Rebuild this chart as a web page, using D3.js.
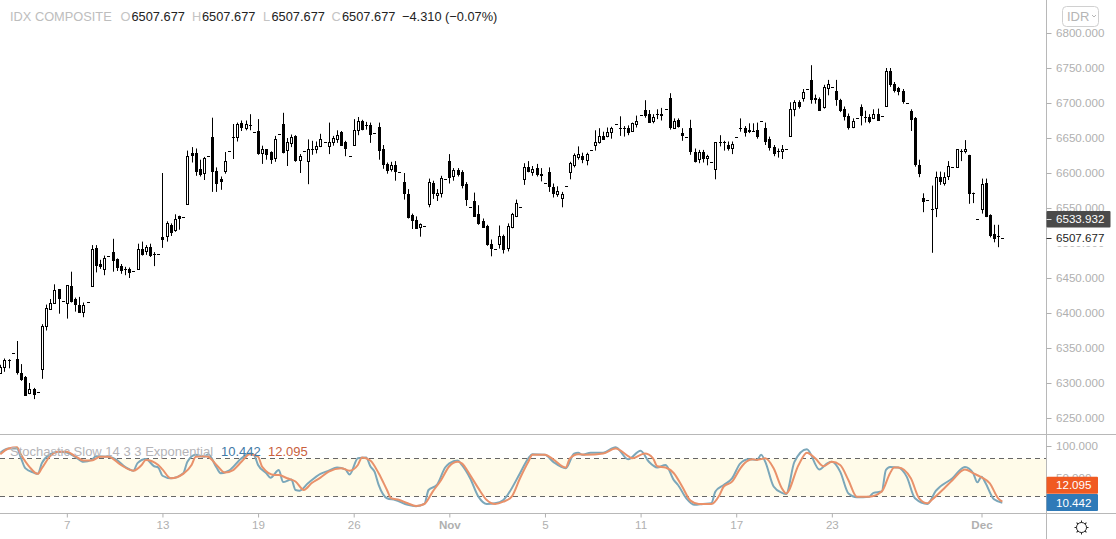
<!DOCTYPE html>
<html>
<head>
<meta charset="utf-8">
<script src="https://cdn.jsdelivr.net/npm/d3@7"></script>
<style>
html, body { margin: 0; padding: 0; background: #fff; overflow: hidden; }
svg { display: block; font-family: "Liberation Sans", Arial, sans-serif; }
.axis text { fill: #b0b0b0; font-size: 11.6px; }
.axis line { stroke: #b0b0b0; }
.axis path { display: none; }
.head { font-size: 12.8px; }
</style>
</head>
<body>
<script>
var width = 1116, height = 539;

// bars, a bar with high == low is the closing dash of a session
var opens = [
    6315,6323,6333,6343,6334,6315,6309,6286,6291,6287,
    6320,6382,6406,6414,6434,6417,6414,6439,6420,6412,
    6402,6415,6438,6493,6470,6462,6481,6487,6477,6467,
    6463,6463,6460,6462,6492,6488,6494,6485,6485,6509,
    6509,6526,6518,6538,6537,6556,6629,6628,6606,6599,
    6625,6651,6603,6591,6602,6632,6652,6652,6671,6664,
    6668,6658,6660,6628,6634,6630,6621,6656,6670,6632,
    6643,6653,6618,6632,6618,6635,6633,6638,6644,6638,
    6644,6649,6659,6644,6625,6640,6661,6674,6669,6668,
    6657,6666,6634,6613,6606,6611,6602,6587,6570,6540,
    6533,6522,6524,6555,6586,6569,6572,6591,6617,6595,
    6604,6602,6584,6552,6560,6541,6532,6525,6498,6492,
    6498,6510,6492,6522,6538,6552,6591,6608,6602,6607,
    6598,6585,6601,6580,6571,6564,6581,6601,6612,6623,
    6625,6618,6633,6641,6645,6653,6654,6658,6670,6665,
    6665,6664,6660,6670,6683,6690,6684,6675,6684,6684,
    6691,6707,6665,6676,6657,6651,6664,6630,6620,6630,
    6621,6616,6605,6644,6644,6640,6636,6651,6665,6665,
    6661,6660,6661,6675,6665,6648,6637,6632,6631,6635,
    6652,6691,6702,6708,6720,6733,6707,6706,6695,6721,
    6723,6717,6705,6691,6682,6666,6678,6694,6680,6680,
    6679,6685,6682,6695,6745,6727,6721,6717,6700,6689,
    6679,6611,6565,6562,6549,6550,6594,6586,6596,6608,
    6608,6632,6632,6626,6571,6534,6548,6586,6540,6513,6510,6507.677];
var highs = [
    6326,6335,6334,6343,6360,6327,6310,6300,6293,6287,
    6384,6412,6420,6441,6434,6417,6440,6459,6422,6423,
    6415,6415,6497,6497,6476,6482,6481,6506,6478,6470,
    6466,6465,6460,6499,6502,6497,6499,6487,6485,6600,
    6531,6528,6541,6539,6537,6632,6637,6635,6619,6623,
    6625,6679,6608,6595,6630,6632,6670,6672,6675,6675,
    6684,6658,6677,6639,6634,6631,6653,6656,6686,6650,
    6655,6654,6627,6632,6648,6646,6645,6656,6644,6672,
    6653,6661,6660,6646,6625,6677,6680,6676,6673,6672,
    6657,6672,6640,6615,6616,6617,6602,6600,6577,6542,
    6538,6528,6524,6592,6589,6577,6596,6591,6627,6607,
    6607,6604,6587,6552,6572,6554,6535,6526,6505,6492,
    6525,6512,6528,6543,6562,6552,6614,6617,6610,6613,
    6607,6585,6608,6585,6581,6573,6581,6616,6628,6638,
    6629,6629,6633,6661,6664,6659,6665,6666,6670,6681,
    6667,6668,6672,6682,6683,6704,6690,6684,6691,6693,
    6691,6714,6678,6678,6664,6651,6676,6635,6633,6633,
    6626,6616,6644,6654,6646,6645,6645,6651,6678,6667,
    6671,6671,6672,6675,6672,6652,6640,6635,6640,6635,
    6701,6704,6704,6720,6720,6754,6712,6708,6726,6733,
    6723,6733,6706,6695,6685,6678,6678,6698,6689,6684,
    6691,6692,6682,6750,6750,6730,6723,6720,6700,6691,
    6680,6619,6571,6562,6582,6602,6602,6601,6617,6608,
    6634,6634,6647,6626,6572,6534,6592,6592,6541,6526,6526,6507.677];
var lows = [
    6313,6316,6321,6343,6312,6303,6283,6284,6277,6287,
    6306,6375,6405,6413,6399,6417,6392,6415,6402,6402,
    6394,6415,6438,6458,6463,6454,6481,6459,6460,6456,
    6454,6450,6460,6462,6482,6483,6480,6467,6485,6493,
    6502,6510,6516,6519,6537,6556,6615,6596,6595,6590,
    6625,6573,6573,6576,6599,6632,6620,6645,6660,6661,
    6661,6658,6626,6613,6619,6613,6616,6656,6628,6610,
    6637,6616,6600,6632,6584,6626,6628,6637,6644,6627,
    6639,6643,6639,6624,6625,6639,6654,6661,6662,6643,
    6657,6619,6606,6599,6602,6589,6602,6562,6535,6520,
    6521,6509,6524,6551,6563,6560,6565,6591,6585,6589,
    6595,6578,6553,6552,6539,6526,6522,6496,6481,6492,
    6492,6485,6488,6521,6537,6552,6583,6601,6596,6595,
    6588,6585,6573,6565,6566,6551,6581,6591,6608,6619,
    6614,6611,6633,6632,6642,6648,6651,6649,6670,6653,
    6652,6654,6659,6665,6683,6679,6672,6671,6677,6675,
    6691,6662,6663,6665,6646,6651,6626,6615,6614,6615,
    6611,6616,6591,6638,6632,6632,6627,6651,6659,6652,
    6657,6659,6649,6675,6640,6632,6624,6622,6620,6635,
    6652,6681,6692,6702,6720,6699,6699,6690,6692,6711,
    6723,6696,6687,6675,6662,6664,6678,6668,6672,6671,
    6677,6676,6682,6695,6723,6715,6711,6699,6700,6660,
    6609,6594,6544,6562,6486,6537,6583,6582,6590,6608,
    6608,6617,6628,6556,6557,6534,6542,6537,6508,6501,6494,6507.677];
var closes = [
    6323,6333,6333,6343,6315,6306,6284,6291,6284,6287,
    6381,6407,6414,6433,6421,6417,6440,6418,6413,6402,
    6412,6415,6491,6469,6467,6478,6481,6476,6466,6462,
    6463,6459,6460,6491,6485,6494,6482,6485,6485,6506,
    6528,6516,6534,6535,6537,6625,6626,6603,6599,6621,
    6625,6602,6586,6588,6617,6632,6652,6670,6666,6670,
    6668,6658,6629,6634,6627,6620,6648,6656,6630,6644,
    6651,6619,6624,6632,6635,6635,6638,6648,6644,6644,
    6650,6655,6640,6635,6625,6661,6674,6663,6669,6655,
    6657,6633,6612,6605,6612,6603,6602,6571,6537,6533,
    6522,6527,6524,6587,6572,6572,6593,6591,6594,6604,
    6599,6584,6563,6552,6539,6528,6524,6499,6493,6492,
    6510,6491,6524,6541,6557,6552,6608,6602,6606,6598,
    6596,6585,6581,6571,6575,6570,6581,6614,6626,6627,
    6620,6627,6633,6645,6653,6649,6659,6664,6670,6665,
    6665,6658,6671,6674,6683,6683,6673,6680,6684,6682,
    6691,6665,6675,6668,6654,6651,6631,6617,6630,6621,
    6624,6616,6644,6644,6644,6636,6641,6651,6665,6660,
    6659,6660,6653,6675,6646,6636,6629,6632,6634,6635,
    6691,6701,6696,6716,6720,6706,6705,6691,6723,6727,
    6723,6705,6691,6681,6666,6674,6678,6682,6680,6674,
    6685,6677,6682,6745,6727,6719,6717,6703,6700,6677,
    6613,6599,6561,6562,6549,6594,6589,6595,6610,6608,
    6634,6632,6635,6572,6571,6534,6584,6539,6512,6508,6510,6507.677];

// stochastic, only the bars where the line visibly turns
var kBars = [0,2,4,5,6,8,9,10,12,14,16,18,20,22,23,26,28,30,32,33,35,37,38,39,41,44,45,47,49,50,52,53,55,58,60,61,62,64,65,67,68,70,71,72,74,77,79,81,83,84,86,88,
    89,90,91,93,95,98,100,102,103,105,107,108,110,111,113,115,117,119,121,122,125,127,128,131,133,136,138,139,140,142,145,148,151,154,156,158,160,162,163,165,167,169,171,172,174,176,178,
    180,182,183,184,186,188,189,191,194,197,199,200,202,204,206,209,210,212,213,214,216,218,220,223,225,229,232,234,235,236,237,239,241];
var kValues = [89.5,96,96,80.5,65,58,56,73,87,91,89.5,83,75,78,84,83,78,67,61,73,79.5,68,66,53,49,57,75,86,83,87,66,57,61,80.5,88,86,70,57,50,62,43,47,30.5,29.5,41,56,61,66,63,55,80.5,82,
    68,59.5,38.5,17.4,14.7,7,5,8.4,30.5,38.4,66,72.6,77,70,49,20,8.4,9.5,14.7,22.6,57,80.5,87,86,75,65,88,89.5,86,89.5,89.5,98,79,92.6,75,66,70,46,38.4,17.4,7,8.4,9.5,28,38.4,49,72.6,
    79,78,86,75,36,26,24,75,95,63,73,75,59.5,25,19,20,26,28,62,67,66,51.6,17.4,8.4,29,49,67,57,42.6,51.6,41,15.8,10.442];
var dBars = [0,2,4,5,7,9,10,12,14,16,18,20,22,24,26,29,32,34,35,38,39,41,44,46,47,49,50,52,54,56,58,60,62,63,66,67,69,71,73,75,77,79,82,84,86,87,
    89,91,93,94,96,98,100,102,104,106,108,110,111,113,115,117,119,121,123,125,127,128,131,133,136,137,139,141,145,148,151,152,155,157,158,160,162,164,166,168,171,173,174,176,178,
    179,181,182,184,186,188,189,192,194,196,198,200,202,204,206,209,212,214,215,216,219,221,223,224,227,229,232,234,236,238,240,241];
var dValues = [87,96,98,86,67,56,65,84,91,91,84,77,77,83,83,70,61,70,78,70,63,49,56,70,83,84,83,70,58,62,75,87,83,67,54,54,49,44,30.5,42,50,59.5,65,61,70,82,
    77,57,30.5,17.4,14.7,9.5,5.3,8.4,28,46,68,75,72.6,54,33,14.7,8.4,12,20,49,75,86,86,79,66,80.5,87,86,88,96,84,80.5,88,80.5,68,66,57,36,13.7,8.4,8.4,22.6,36,43.7,64.7,
    72.6,79,78,80.5,64.7,33,25,70,89.5,80.5,68,75,70,46,20,20,28,57,66,66,49,17.4,9.5,14.7,33,46,63,57,50.5,41,17.4,12.095];

var priceTicks = [6800,6750,6700,6650,6600,6550,6500,6450,6400,6350,6300,6250];
var stochTicks = [100,50];
var stochBand = [20,80];
var dateBars = [16,39,62,85,108,131,154,177,200,236];
var dateLabels = ["7","13","19","26","Nov","5","11","17","23","Dec"];
var boldDates = ["Nov","Dec"];
var lastPrice = 6507.677, markPrice = 6533.932;

var bars = opens.map(function(o, i) {
    return {i: i, open: o, high: highs[i], low: lows[i], close: closes[i]};
});

var axisX = 1046.5, paneTop = 434.5, paneBottom = 513.5;

var xScale = d3.scaleLinear().domain([0, 241]).range([0.3, 1002.3]);
var yScale = d3.scaleLinear().domain([6250, 6800]).range([418, 33]);
var stochScale = d3.scaleLinear().domain([0, 100]).range([509.3, 446]);

function barX(i) { return Math.round(xScale(i)) + 0.5; }

var svg = d3.select("body").append("svg")
    .attr("width", width)
    .attr("height", height);

// stochastic band
svg.append("rect")
    .attr("x", 0)
    .attr("width", axisX)
    .attr("y", stochScale(stochBand[1]))
    .attr("height", stochScale(stochBand[0]) - stochScale(stochBand[1]))
    .attr("fill", "#fffbe9");

svg.selectAll(".band-line")
    .data(stochBand)
    .enter()
    .append("line")
    .attr("x1", 0)
    .attr("x2", axisX)
    .attr("y1", function(d) { return Math.floor(stochScale(d)) + 0.5; })
    .attr("y2", function(d) { return Math.floor(stochScale(d)) + 0.5; })
    .attr("stroke", "#666")
    .attr("stroke-dasharray", "5,4");

// candles
var candles = svg.append("g").selectAll("g")
    .data(bars)
    .enter()
    .append("g");

candles.filter(function(d) { return d.high > d.low; })
    .append("line")
    .attr("x1", function(d) { return barX(d.i); })
    .attr("x2", function(d) { return barX(d.i); })
    .attr("y1", function(d) { return yScale(d.high); })
    .attr("y2", function(d) { return yScale(d.low); })
    .attr("stroke", "#000");

candles.filter(function(d) { return d.open !== d.close; })
    .append("rect")
    .attr("x", function(d) { return barX(d.i) - 1; })
    .attr("width", 2)
    .attr("y", function(d) { return Math.round(yScale(Math.max(d.open, d.close))) + 0.5; })
    .attr("height", function(d) { return Math.max(1, Math.round(Math.abs(yScale(d.open) - yScale(d.close)))); })
    .attr("fill", function(d) { return d.close > d.open ? "#fff" : "#000"; })
    .attr("stroke", "#000");

// doji and closing dash
candles.filter(function(d) { return d.open === d.close; })
    .append("line")
    .attr("x1", function(d) { return barX(d.i) - 1.5; })
    .attr("x2", function(d) { return barX(d.i) + 1.5; })
    .attr("y1", function(d) { return Math.round(yScale(d.close)) + 0.5; })
    .attr("y2", function(d) { return Math.round(yScale(d.close)) + 0.5; })
    .attr("stroke", "#000");

// stochastic lines
var stochLine = d3.line()
    .x(function(d) { return xScale(d.bar); })
    .y(function(d) { return stochScale(d.value); })
    .curve(d3.curveMonotoneX);

function toPoints(barList, values) {
    return barList.map(function(b, i) { return {bar: b, value: values[i]}; });
}

svg.append("path")
    .attr("d", stochLine(toPoints(kBars, kValues)))
    .attr("fill", "none")
    .attr("stroke", "#7ba7ba")
    .attr("stroke-width", 2);

svg.append("path")
    .attr("d", stochLine(toPoints(dBars, dValues)))
    .attr("fill", "none")
    .attr("stroke", "#e9916a")
    .attr("stroke-width", 2);

// frame
[paneTop, paneBottom].forEach(function(y) {
    svg.append("line")
        .attr("x1", 0).attr("x2", width)
        .attr("y1", y).attr("y2", y)
        .attr("stroke", "#b8b8b8");
});
svg.append("line")
    .attr("x1", axisX).attr("x2", axisX)
    .attr("y1", 0).attr("y2", height)
    .attr("stroke", "#b8b8b8");

// axes
svg.append("g")
    .attr("class", "axis")
    .attr("transform", "translate(" + axisX + ",0)")
    .call(d3.axisRight(yScale).tickValues(priceTicks).tickSize(5).tickPadding(4.5)
        .tickFormat(function(d) { return d3.format(".3f")(d); }));

svg.append("g")
    .attr("class", "axis")
    .attr("transform", "translate(" + axisX + ",0)")
    .call(d3.axisRight(stochScale).tickValues(stochTicks).tickSize(5).tickPadding(4.5)
        .tickFormat(function(d) { return d3.format(".3f")(d); }));

var dateAxis = d3.axisBottom(xScale)
    .tickValues(dateBars)
    .tickSize(4)
    .tickPadding(3.5)
    .tickFormat(function(d, i) { return dateLabels[i]; });

svg.append("g")
    .attr("class", "axis")
    .attr("transform", "translate(0," + paneBottom + ")")
    .call(dateAxis)
    .selectAll("text")
    .style("font-weight", function(d, i) { return boldDates.indexOf(dateLabels[i]) >= 0 ? "bold" : "normal"; });

// value labels on the scales
svg.append("rect")
    .attr("x", axisX + 0.5).attr("width", 64)
    .attr("y", yScale(lastPrice) - 8).attr("height", 16.5)
    .attr("fill", "#fff");
svg.append("line")
    .attr("x1", axisX).attr("x2", axisX + 5)
    .attr("y1", Math.round(yScale(lastPrice)) + 0.5).attr("y2", Math.round(yScale(lastPrice)) + 0.5)
    .attr("stroke", "#333");
svg.append("text")
    .attr("x", 1056).attr("y", yScale(lastPrice) + 4.2)
    .attr("font-size", "11.6px").attr("fill", "#222")
    .text(d3.format(".3f")(lastPrice));

svg.append("rect")
    .attr("x", axisX).attr("width", 64)
    .attr("y", yScale(markPrice) - 8.2).attr("height", 16.4)
    .attr("rx", 1)
    .attr("fill", "#4a4a4a");
svg.append("line")
    .attr("x1", axisX).attr("x2", axisX + 5)
    .attr("y1", Math.round(yScale(markPrice)) + 0.5).attr("y2", Math.round(yScale(markPrice)) + 0.5)
    .attr("stroke", "#ddd");
svg.append("text")
    .attr("x", 1056).attr("y", yScale(markPrice) + 4.2)
    .attr("font-size", "11.6px").attr("fill", "#fff")
    .text(d3.format(".3f")(markPrice));

var stochLabels = [
    {text: d3.format(".3f")(dValues[dValues.length - 1]), top: 476.8, color: "#f05a22"},
    {text: d3.format(".3f")(kValues[kValues.length - 1]), top: 494, color: "#2f7ab8"}
];
svg.selectAll(".stoch-box")
    .data(stochLabels)
    .enter()
    .append("rect")
    .attr("x", axisX)
    .attr("width", 51.5)
    .attr("y", function(d) { return d.top; })
    .attr("height", 17)
    .attr("rx", 1)
    .attr("fill", function(d) { return d.color; });
svg.selectAll(".stoch-text")
    .data(stochLabels)
    .enter()
    .append("text")
    .attr("x", 1056)
    .attr("y", function(d) { return d.top + 12.6; })
    .attr("font-size", "11.6px")
    .attr("fill", "#fff")
    .text(function(d) { return d.text; });

// header
var headParts = [
    {x: 10, t: "IDX COMPOSITE", c: "#bdbdbd"},
    {x: 120.5, t: "O", c: "#c4c4c4"},
    {x: 131.5, t: "6507.677", c: "#222"},
    {x: 192, t: "H", c: "#c4c4c4"},
    {x: 202, t: "6507.677", c: "#222"},
    {x: 263, t: "L", c: "#c4c4c4"},
    {x: 271.5, t: "6507.677", c: "#222"},
    {x: 331.5, t: "C", c: "#c4c4c4"},
    {x: 342, t: "6507.677", c: "#222"},
    {x: 402, t: "\u22124.310 (\u22120.07%)", c: "#222"}
];
svg.selectAll(".head")
    .data(headParts)
    .enter()
    .append("text")
    .attr("class", "head")
    .attr("x", function(d) { return d.x; })
    .attr("y", 21)
    .attr("fill", function(d) { return d.c; })
    .text(function(d) { return d.t; });

var paneParts = [
    {x: 10, t: "Stochastic Slow 14 3 3 Exponential", c: "#b4b4b8"},
    {x: 221, t: d3.format(".3f")(kValues[kValues.length - 1]), c: "#3f7aa6"},
    {x: 268, t: d3.format(".3f")(dValues[dValues.length - 1]), c: "#c9603c"}
];
svg.selectAll(".pane-head")
    .data(paneParts)
    .enter()
    .append("text")
    .attr("class", "head")
    .attr("x", function(d) { return d.x; })
    .attr("y", 455.5)
    .attr("fill", function(d) { return d.c; })
    .style("font-size", "13px")
    .text(function(d) { return d.t; });

// currency button
svg.append("rect")
    .attr("x", 1062.5).attr("y", 6.5)
    .attr("width", 36).attr("height", 20)
    .attr("rx", 4)
    .attr("fill", "#fff")
    .attr("stroke", "#d0d0d0");
svg.append("text")
    .attr("x", 1067).attr("y", 21)
    .attr("font-size", "13px").attr("fill", "#b5b5b5")
    .text("IDR");
svg.append("path")
    .attr("d", "M1092 15l2 2l2-2")
    .attr("fill", "none")
    .attr("stroke", "#b5b5b5");

// settings icon
var gear = svg.append("g").attr("transform", "translate(1081.5,527.5)");
gear.append("circle").attr("r", 5).attr("fill", "none").attr("stroke", "#222");
d3.range(0, 360, 45).forEach(function(a) {
    gear.append("line")
        .attr("x1", 0).attr("x2", 0)
        .attr("y1", -5).attr("y2", -7)
        .attr("transform", "rotate(" + a + ")")
        .attr("stroke", "#222");
});
</script>
</body>
</html>
